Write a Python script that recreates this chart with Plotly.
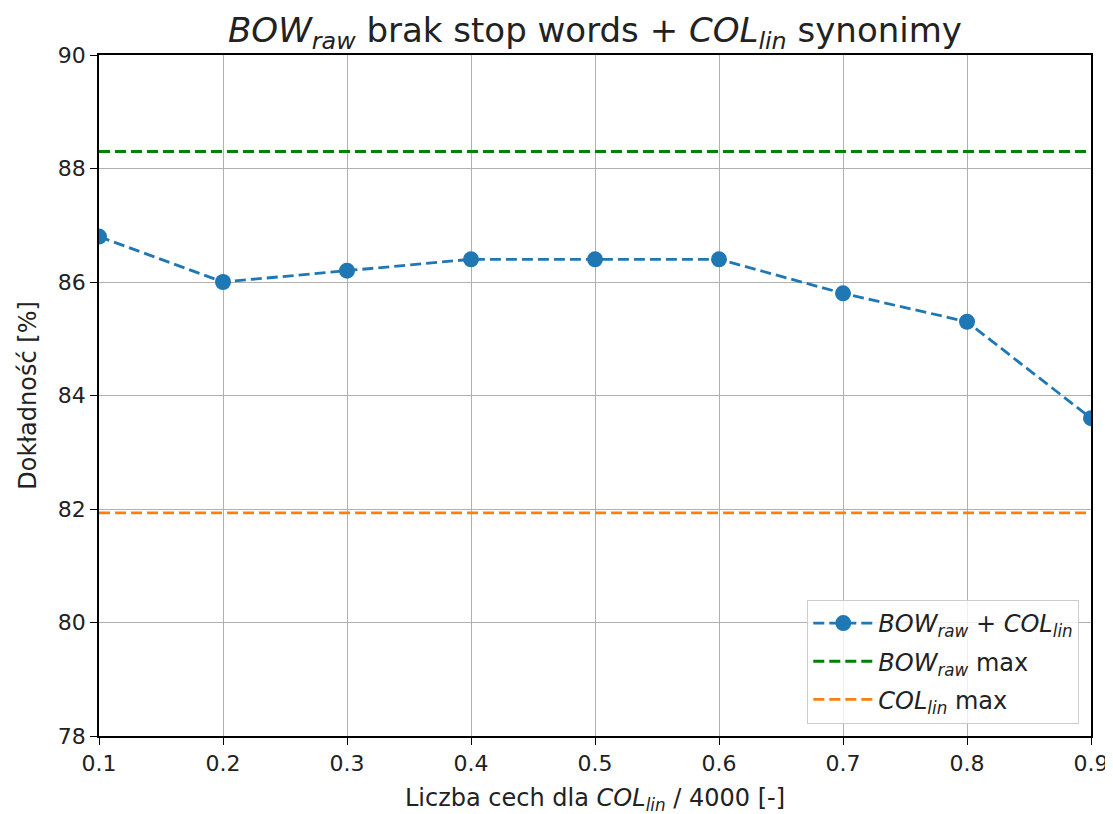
import plotly.graph_objects as go

x_vals = [0.1, 0.2, 0.3, 0.4, 0.5, 0.6, 0.7, 0.8, 0.9]
acc_combined = [86.8, 86.0, 86.2, 86.4, 86.4, 86.4, 85.8, 85.3, 83.6]
bow_raw_max = 88.3
col_lin_max = 81.93
x_ticks = [0.1, 0.2, 0.3, 0.4, 0.5, 0.6, 0.7, 0.8, 0.9]
y_ticks = [78, 80, 82, 84, 86, 88, 90]

FONT = "DejaVu Sans"
DASH = "11px,5px"
fig = go.Figure()
fig.add_trace(go.Scatter(
    x=x_vals, y=acc_combined, mode="lines+markers",
    line=dict(color="#1f77b4", width=2.8, dash=DASH),
    marker=dict(color="#1f77b4", size=16),
    name="<i>BOW<sub>raw</sub></i> + <i>COL<sub>lin</sub></i>", legendgroup="a",
))
fig.add_trace(go.Scatter(
    x=[x_vals[0], x_vals[-1]], y=[bow_raw_max, bow_raw_max], mode="lines",
    line=dict(color="green", width=2.8, dash=DASH),
    name="<i>BOW<sub>raw</sub></i> max", legendgroup="b",
))
fig.add_trace(go.Scatter(
    x=[x_vals[0], x_vals[-1]], y=[col_lin_max, col_lin_max], mode="lines",
    line=dict(color="#ff7f0e", width=2.8, dash=DASH),
    name="<i>COL<sub>lin</sub></i> max", legendgroup="c",
))

axis_common = dict(
    showline=True, mirror=True, linecolor="black", linewidth=1.6,
    showgrid=True, gridcolor="#b0b0b0", gridwidth=1.2,
    ticks="outside", ticklen=7, tickwidth=1.4, tickcolor="black",
    tickfont=dict(family=FONT, size=22, color="#222"),
    zeroline=False,
)
fig.update_xaxes(range=[0.1, 0.9], tickvals=x_ticks, ticktext=[f"{v:.1f}" for v in x_ticks],
                 title=dict(text="Liczba cech dla <i>COL<sub>lin</sub></i> / 4000 [-]",
                            font=dict(family=FONT, size=24, color="#222"), standoff=14),
                 **axis_common)
fig.update_yaxes(range=[78, 90], tickvals=y_ticks,
                 title=dict(text="Dokładność [%]",
                            font=dict(family=FONT, size=24, color="#222"), standoff=14),
                 **axis_common)

fig.update_layout(
    width=1113, height=814,
    margin=dict(l=91, r=26, t=47, b=86),
    paper_bgcolor="white", plot_bgcolor="white",
    font=dict(family=FONT, color="#222"),
    title=dict(text="<i>BOW<sub>raw</sub></i> brak stop words + <i>COL<sub>lin</sub></i> synonimy",
               x=0.5, xref="paper", xanchor="center", y=1, yref="paper", yanchor="bottom",
               pad=dict(b=13), font=dict(family=FONT, size=34, color="#222")),
    legend=dict(x=0.988, y=0.018, xanchor="right", yanchor="bottom",
                bgcolor="rgba(255,255,255,0.8)", bordercolor="#cccccc", borderwidth=1.2,
                font=dict(family=FONT, size=24, color="#222"), itemwidth=60,
                tracegroupgap=4),
    showlegend=True,
)
fig.write_html("out.html")
